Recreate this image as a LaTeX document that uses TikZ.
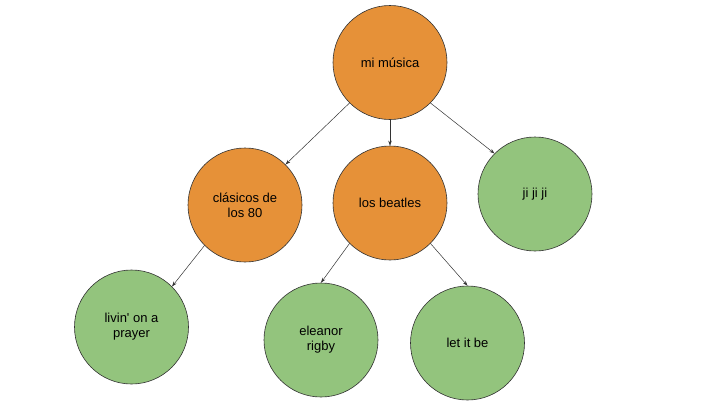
\documentclass[tikz,border=0pt]{standalone}
\usepackage{fontspec}
\setmainfont{Liberation Sans}
\usetikzlibrary{arrows.meta}
\definecolor{naranja}{HTML}{E69138}
\definecolor{verde}{HTML}{93C47D}
\tikzset{
	tema/.style={circle, draw=black!80, line width=0.6pt, minimum size=114pt, inner sep=0pt, align=center, font=\fontsize{13pt}{15pt}\selectfont},
	grupo/.style={tema, fill=naranja},
	cancion/.style={tema, fill=verde},
	rama/.style={draw=black!80, line width=0.5pt, -{Stealth[length=5pt,width=3.5pt]}}
}

\begin{document}
\begin{tikzpicture}[x=1pt, y=-1pt]
		%%%%% START %%%%%
		
		\useasboundingbox (0, 0) rectangle (727, 418);
		
		\node[grupo] (musica) at (390, 62.5) {mi música};
		
		\node[grupo] (clasicos) at (245, 205) {clásicos de\\los 80};
		\node[grupo] (beatles) at (390, 203) {los beatles};
		\node[cancion] (jiji) at (535, 194) {ji ji ji};
		
		\node[cancion] (livin) at (131.5, 327) {livin\textquotesingle{} on a\\prayer};
		\node[cancion] (eleanor) at (321, 340) {eleanor\\rigby};
		\node[cancion] (letitbe) at (467.5, 343) {let it be};
		
		\draw[rama] (musica.south west) -- (clasicos.north east);
		\draw[rama] (musica.south) -- (beatles.north);
		\draw[rama] (musica.south east) -- (jiji.north west);
		
		\draw[rama] (clasicos.south west) -- (livin.north east);
		\draw[rama] (beatles.south west) -- (eleanor.north);
		\draw[rama] (beatles.south east) -- (letitbe.north);
		
		%%%%% END %%%%%
\end{tikzpicture}
\end{document}
